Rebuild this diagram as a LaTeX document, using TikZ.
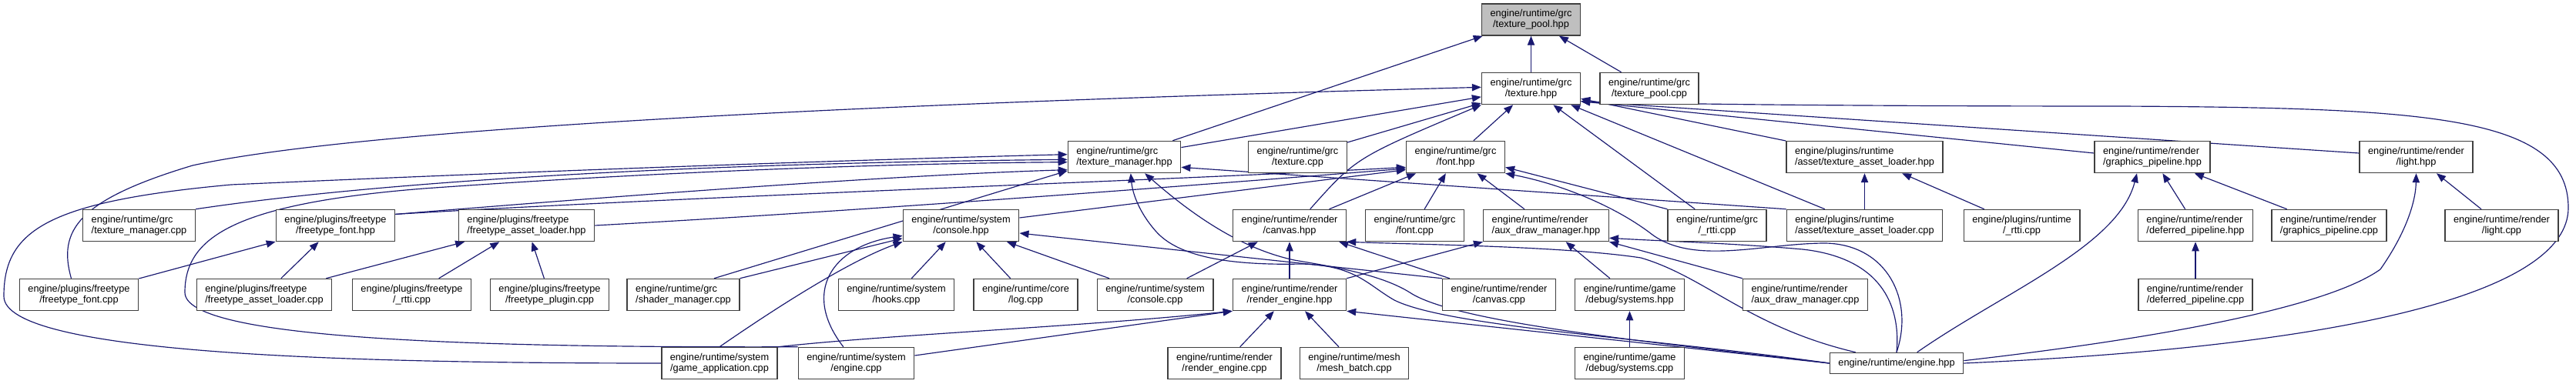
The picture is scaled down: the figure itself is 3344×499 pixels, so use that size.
\documentclass[tikz,border=0pt]{standalone}
\usepackage{fontspec}
\setmainfont{Liberation Sans}
\usepackage{xcolor}
\usepackage{tikz}
\usetikzlibrary{
    arrows.meta,
    backgrounds,
}
\definecolor{midnight}{RGB}{25,25,112}
\definecolor{rootgray}{RGB}{191,191,191}
\definecolor{boxborder}{RGB}{64,64,64}
\tikzset{
    % Node styles
    filebox/.style={rectangle, draw=boxborder, line width=0.45mm, fill=white,
                    inner xsep=3.3mm, inner ysep=0pt, minimum height=12.3mm,
                    font=\fontsize{10.9}{12.2}\selectfont, align=center},
    left filebox/.style={filebox, align=left},
    root filebox/.style={filebox, fill=rootgray},
    % Arrow styles
    dep/.style={draw=midnight, line width=0.35mm, -{Triangle[length=3.6mm, width=2.8mm]}},
}

\begin{document}
\begin{tikzpicture}[x=0.3mm, y=-0.3mm]
    \useasboundingbox (0,0) rectangle (3344,499);

    % Row 1
    \node[root filebox] (TP) at (1987.5,25.5) {engine/runtime/grc\\/texture\_pool.hpp};

    % Row 2
    \node[filebox] (TH) at (1987.5,115) {engine/runtime/grc\\/texture.hpp};
    \node[filebox] (TPC) at (2141,115) {engine/runtime/grc\\/texture\_pool.cpp};

    % Row 3
    \node[left filebox] (TMH) at (1459.5,204) {engine/runtime/grc\\/texture\_manager.hpp};
    \node[filebox] (TC) at (1684.5,204) {engine/runtime/grc\\/texture.cpp};
    \node[filebox] (FH) at (1889.5,204) {engine/runtime/grc\\/font.hpp};
    \node[left filebox] (TALH) at (2420.5,204) {engine/plugins/runtime\\/asset/texture\_asset\_loader.hpp};
    \node[left filebox] (GPH) at (2794,204) {engine/runtime/render\\/graphics\_pipeline.hpp};
    \node[filebox] (LH) at (3136.5,204) {engine/runtime/render\\/light.hpp};

    % Row 4
    \node[left filebox] (TMC) at (180.5,293) {engine/runtime/grc\\/texture\_manager.cpp};
    \node[filebox] (FFH) at (435.5,293) {engine/plugins/freetype\\/freetype\_font.hpp};
    \node[left filebox] (FALH) at (683.5,293) {engine/plugins/freetype\\/freetype\_asset\_loader.hpp};
    \node[filebox] (CSH) at (1247.5,293) {engine/runtime/system\\/console.hpp};
    \node[filebox] (CH) at (1674,293) {engine/runtime/render\\/canvas.hpp};
    \node[filebox] (FC) at (1836.5,293) {engine/runtime/grc\\/font.cpp};
    \node[left filebox] (ADMH) at (2007,293) {engine/runtime/render\\/aux\_draw\_manager.hpp};
    \node[filebox] (GR) at (2229,293) {engine/runtime/grc\\/\_rtti.cpp};
    \node[left filebox] (TALC) at (2420.5,293) {engine/plugins/runtime\\/asset/texture\_asset\_loader.cpp};
    \node[filebox] (PRR) at (2624.5,293) {engine/plugins/runtime\\/\_rtti.cpp};
    \node[left filebox] (DPH) at (2850,293) {engine/runtime/render\\/deferred\_pipeline.hpp};
    \node[left filebox] (GPC) at (3023.5,293) {engine/runtime/render\\/graphics\_pipeline.cpp};
    \node[filebox] (LC) at (3247.5,293) {engine/runtime/render\\/light.cpp};

    % Row 5
    \node[filebox] (FFC) at (102.5,383) {engine/plugins/freetype\\/freetype\_font.cpp};
    \node[left filebox] (FALC) at (343,383) {engine/plugins/freetype\\/freetype\_asset\_loader.cpp};
    \node[filebox] (FRT) at (534.5,383) {engine/plugins/freetype\\/\_rtti.cpp};
    \node[filebox] (FPC) at (713.5,383) {engine/plugins/freetype\\/freetype\_plugin.cpp};
    \node[left filebox] (SMC) at (887,383) {engine/runtime/grc\\/shader\_manager.cpp};
    \node[filebox] (HC) at (1163.5,383) {engine/runtime/system\\/hooks.cpp};
    \node[filebox] (LOG) at (1331.5,383) {engine/runtime/core\\/log.cpp};
    \node[filebox] (CSC) at (1499.5,383) {engine/runtime/system\\/console.cpp};
    \node[filebox] (REH) at (1674,383) {engine/runtime/render\\/render\_engine.hpp};
    \node[filebox] (CC) at (1946,383) {engine/runtime/render\\/canvas.cpp};
    \node[filebox] (DSH) at (2115.5,383) {engine/runtime/game\\/debug/systems.hpp};
    \node[left filebox] (ADMC) at (2343.5,383) {engine/runtime/render\\/aux\_draw\_manager.cpp};
    \node[left filebox] (DPC) at (2850,383) {engine/runtime/render\\/deferred\_pipeline.cpp};

    % Row 6
    \node[filebox] (GAC) at (934,472) {engine/runtime/system\\/game\_application.cpp};
    \node[filebox] (EC) at (1111.5,472) {engine/runtime/system\\/engine.cpp};
    \node[filebox] (REC) at (1589.5,472) {engine/runtime/render\\/render\_engine.cpp};
    \node[filebox] (MBC) at (1758,472) {engine/runtime/mesh\\/mesh\_batch.cpp};
    \node[filebox] (DSC) at (2115.5,472) {engine/runtime/game\\/debug/systems.cpp};
    \node[filebox, minimum height=8.1mm] (EH) at (2462,472) {engine/runtime/engine.hpp};

    \begin{scope}[on background layer]
    \fill[white] (0,0) rectangle (3344,499);

    % Into texture_pool.hpp
    \draw[dep] (TMH) -- (TP);
    \draw[dep] (TH) -- (TP);
    \draw[dep] (TPC) -- (TP);

    % Into texture.hpp
    \draw[dep] (TMH) -- (TH);
    \draw[dep] (TC) -- (TH);
    \draw[dep] (FH) -- (TH);
    \draw[dep] ([xshift=8mm]CH.north) .. controls (1760,205) .. (TH.south west);
    \draw[dep] (GR) -- (TH);
    \draw[dep] (TALC) -- (TH);
    \draw[dep] (TALH) -- (TH);
    \draw[dep] ([yshift=1.5mm]GPH.west) -- ([yshift=-5mm]TH.east);
    \draw[dep] ([yshift=1.5mm]LH.west) -- ([yshift=-5mm]TH.east);
    \draw[dep] (EH.east) .. controls (3050,450) and (3334,380) .. (3334,270)
        .. controls (3334,150) and (3150,140) .. (2750,138)
        .. controls (2400,138) and (2150,135) .. ([yshift=-5mm]TH.east);
    \draw[dep] ([xshift=-3mm]FFC.north) .. controls (75,300) and (100,260) .. (250,215)
        .. controls (500,160) and (1300,130) .. ([yshift=0.5mm]TH.west);

    % Into texture_manager.hpp
    \draw[dep] (TMC.north east) .. controls (500,235) and (900,212) .. ([yshift=-1mm]TMH.west);
    \draw[dep] ([yshift=-2mm]FFH.north east) .. controls (800,255) and (1150,228) .. ([yshift=-5mm]TMH.west);
    \draw[dep] (GAC.west) .. controls (450,472) and (5,460) .. (5,385)
        .. controls (5,300) and (60,262) .. (300,240)
        .. controls (700,222) and (1100,208) .. ([yshift=1mm]TMH.west);
    \draw[dep] (EC.north west) .. controls (600,452) and (240,440) .. (240,380)
        .. controls (240,310) and (300,265) .. (550,245)
        .. controls (900,220) and (1200,212) .. ([yshift=-2mm]TMH.west);
    \draw[dep] ([xshift=12mm]SMC.north) -- ([yshift=1mm]TMH.south west);
    \draw[dep] (TALC.north west) -- ([yshift=-4mm]TMH.east);
    \draw[dep] (EH.west) .. controls (2150,440) and (1880,425) .. (1810,390)
        .. controls (1775,370) and (1760,345) .. (1690,343)
        .. controls (1600,345) and (1530,335) .. (1500,300)
        .. controls (1478,275) and (1470,250) .. ([xshift=2.5mm]TMH.south);
    \draw[dep] (EH.west) .. controls (2150,445) and (1890,420) .. (1830,380)
        .. controls (1790,355) and (1720,345) .. (1680,338)
        .. controls (1620,325) and (1560,290) .. ([xshift=8mm]TMH.south);

    % Into font.hpp
    \draw[dep] ([yshift=-2mm]FFH.north east) .. controls (900,255) and (1500,235) .. ([yshift=-4mm]FH.west);
    \draw[dep] (FALH.east) .. controls (1100,275) and (1500,245) .. ([yshift=-4.5mm]FH.west);
    \draw[dep] ([yshift=3mm]CSH.east) -- ([yshift=-5mm]FH.west);
    \draw[dep] (CH) -- (FH);
    \draw[dep] (FC) -- (FH);
    \draw[dep] (ADMH) -- (FH);
    \draw[dep] (GR.north west) -- ([yshift=-4mm]FH.east);
    \draw[dep] (EH.north) .. controls (2485,390) and (2450,318) .. (2370,316)
        .. controls (2290,316) and (2200,345) .. (2145,305)
        .. controls (2100,270) and (2030,240) .. (FH.south east);

    % Into console.hpp
    \draw[dep] (HC) -- (CSH);
    \draw[dep] (LOG) -- (CSH);
    \draw[dep] (CSC) -- (CSH);
    \draw[dep] (CC.north west) -- ([yshift=-3mm]CSH.east);
    \draw[dep] (SMC.north east) -- ([yshift=-5mm]CSH.west);
    \draw[dep] (GAC.north) .. controls (1000,405) and (1100,340) .. (CSH.south west);
    \draw[dep] ([xshift=-5mm]EC.north) .. controls (1040,380) and (1080,320) .. ([yshift=-4mm]CSH.west);

    % Into canvas.hpp
    \draw[dep] (REH) -- (CH);
    \draw[dep] (CSC) -- (CH);
    \draw[dep] (CC) -- (CH);
    \draw[dep] ([xshift=-16mm]EH.north) .. controls (2270,425) and (2215,360) .. (2130,335)
        .. controls (2030,320) and (1850,318) .. (CH.south east);

    % Into render_engine.hpp
    \draw[dep] (REC) -- (REH);
    \draw[dep] (MBC) -- (REH);
    \draw[dep] (GAC.north east) .. controls (1150,435) and (1400,425) .. (REH.south west);
    \draw[dep] ([yshift=3mm]EC.east) -- (REH.south west);
    \draw[dep] (EH.west) -- (REH.south east);

    % Into aux_draw_manager.hpp
    \draw[dep] (REH.north east) -- (ADMH.south west);
    \draw[dep] (DSH) -- (ADMH);
    \draw[dep] (ADMC.north west) -- (ADMH.south east);
    \draw[dep] (EH.north) .. controls (2468,395) and (2440,335) .. (2340,324)
        .. controls (2250,316) and (2150,313) .. ([yshift=1.5mm]ADMH.south east);

    % Into debug/systems.hpp
    \draw[dep] (DSC) -- (DSH);

    % Into texture_asset_loader.hpp
    \draw[dep] (TALC) -- (TALH);
    \draw[dep] (PRR) -- (TALH);

    % Into graphics_pipeline.hpp and deferred_pipeline.hpp
    \draw[dep] (DPH) -- (GPH);
    \draw[dep] (GPC) -- (GPH);
    \draw[dep] ([xshift=8mm]EH.north) .. controls (2600,380) and (2750,320) .. ([xshift=-6mm]GPH.south);
    \draw[dep] (DPC) -- (DPH);

    % Into light.hpp
    \draw[dep] (LC) -- (LH);
    \draw[dep] ([yshift=1mm]EH.east) .. controls (2800,440) and (3020,400) .. (3090,350)
        .. controls (3125,300) and (3136,260) .. (LH.south);

    % Freetype plugin
    \draw[dep] (FFC) -- (FFH);
    \draw[dep] (FALC) -- (FFH);
    \draw[dep] (FALC) -- (FALH);
    \draw[dep] (FRT) -- (FALH);
    \draw[dep] (FPC) -- (FALH);
    \end{scope}
\end{tikzpicture}
\end{document}
